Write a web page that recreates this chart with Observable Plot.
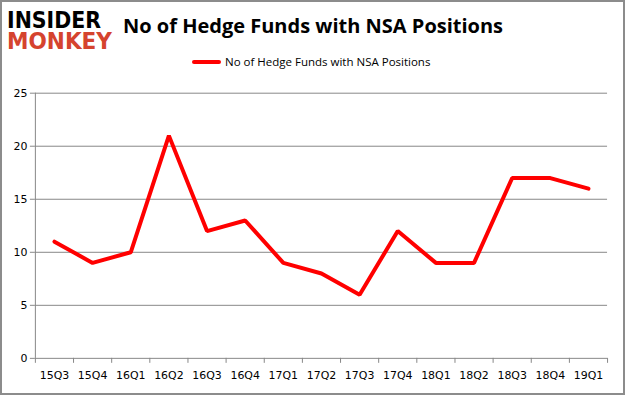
<!DOCTYPE html>
<html>
<head>
<meta charset="utf-8">
<script src="https://cdn.jsdelivr.net/npm/d3@7"></script>
<script src="https://cdn.jsdelivr.net/npm/@observablehq/plot@0.6"></script>
<style>
  html, body { margin: 0; padding: 0; background: #fff; }
  #wrap { position: relative; width: 625px; height: 395px; box-sizing: border-box; border: 2px solid #8c8c8c; overflow: hidden; }
  #plot { position: absolute; left: -2px; top: -2px; }
  #title { position: absolute; left: 121px; top: 10px; font-family: "Open Sans", sans-serif; font-weight: bold; font-size: 20px; color: #000; white-space: nowrap; }
  #legend { position: absolute; left: 190px; top: 52px; font-family: "Open Sans", sans-serif; font-size: 11.5px; color: #000; white-space: nowrap; display: flex; align-items: center; }
  #legend .sw { display: inline-block; width: 29px; height: 4px; background: #ff0000; border-radius: 2px; margin-right: 4px; }
  #logo { position: absolute; left: 3px; top: 4px; }
</style>
</head>
<body>
<div id="wrap">
  <svg id="logo" width="112" height="52">
    <text x="2" y="22" textLength="94" lengthAdjust="spacingAndGlyphs" font-family="DejaVu Sans" font-weight="bold" font-size="23" fill="#000">INSIDER</text>
    <text x="2" y="43" textLength="105" lengthAdjust="spacingAndGlyphs" font-family="DejaVu Sans" font-weight="bold" font-size="23" fill="#d5432e">MONKEY</text>
  </svg>
  <div id="title">No of Hedge Funds with NSA Positions</div>
  <div id="legend"><span class="sw"></span><span>No of Hedge Funds with NSA Positions</span></div>
  <div id="plot"></div>
</div>
<script>
const quarters = ["15Q3","15Q4","16Q1","16Q2","16Q3","16Q4","17Q1","17Q2","17Q3","17Q4","18Q1","18Q2","18Q3","18Q4","19Q1"];
const funds = [11, 9, 10, 21, 12, 13, 9, 8, 6, 12, 9, 9, 17, 17, 16];
const yTicks = [0, 5, 10, 15, 20, 25];

const data = quarters.map((q, i) => ({pos: i + 0.5, q, v: funds[i]}));
const boundaries = d3.range(quarters.length + 1);
const centers = quarters.map((q, i) => i + 0.5);

const chart = Plot.plot({
  width: 625,
  height: 395,
  marginTop: 93,
  marginBottom: 36,
  marginLeft: 35,
  marginRight: 16,
  style: { fontFamily: "DejaVu Sans, sans-serif", fontSize: "11px", color: "#000", background: "transparent" },
  x: { type: "linear", domain: [0, quarters.length], label: null },
  y: { domain: [0, 25], label: null },
  marks: [
    Plot.gridY(yTicks.filter(d => d > 0), { stroke: "#888", strokeOpacity: 1, strokeWidth: 1 }),
    Plot.ruleY([0], { stroke: "#888", strokeWidth: 1 }),
    Plot.ruleX([0], { stroke: "#888", strokeWidth: 1 }),
    Plot.axisY({ ticks: yTicks, tickSize: 5, tickPadding: 3, stroke: "#888", fill: "#000", tickFormat: d => d, label: null }),
    Plot.axisX({ ticks: boundaries, tickSize: 5, tickFormat: () => "", stroke: "#888", label: null }),
    Plot.axisX({ ticks: centers, tickSize: 0, tickPadding: 13, tickFormat: d => quarters[Math.floor(d)], fill: "#000", label: null }),
    Plot.line(data, { x: "pos", y: "v", stroke: "#ff0000", strokeWidth: 4, strokeLinejoin: "miter", strokeLinecap: "round" })
  ]
});
document.getElementById("plot").appendChild(chart);
</script>
</body>
</html>
